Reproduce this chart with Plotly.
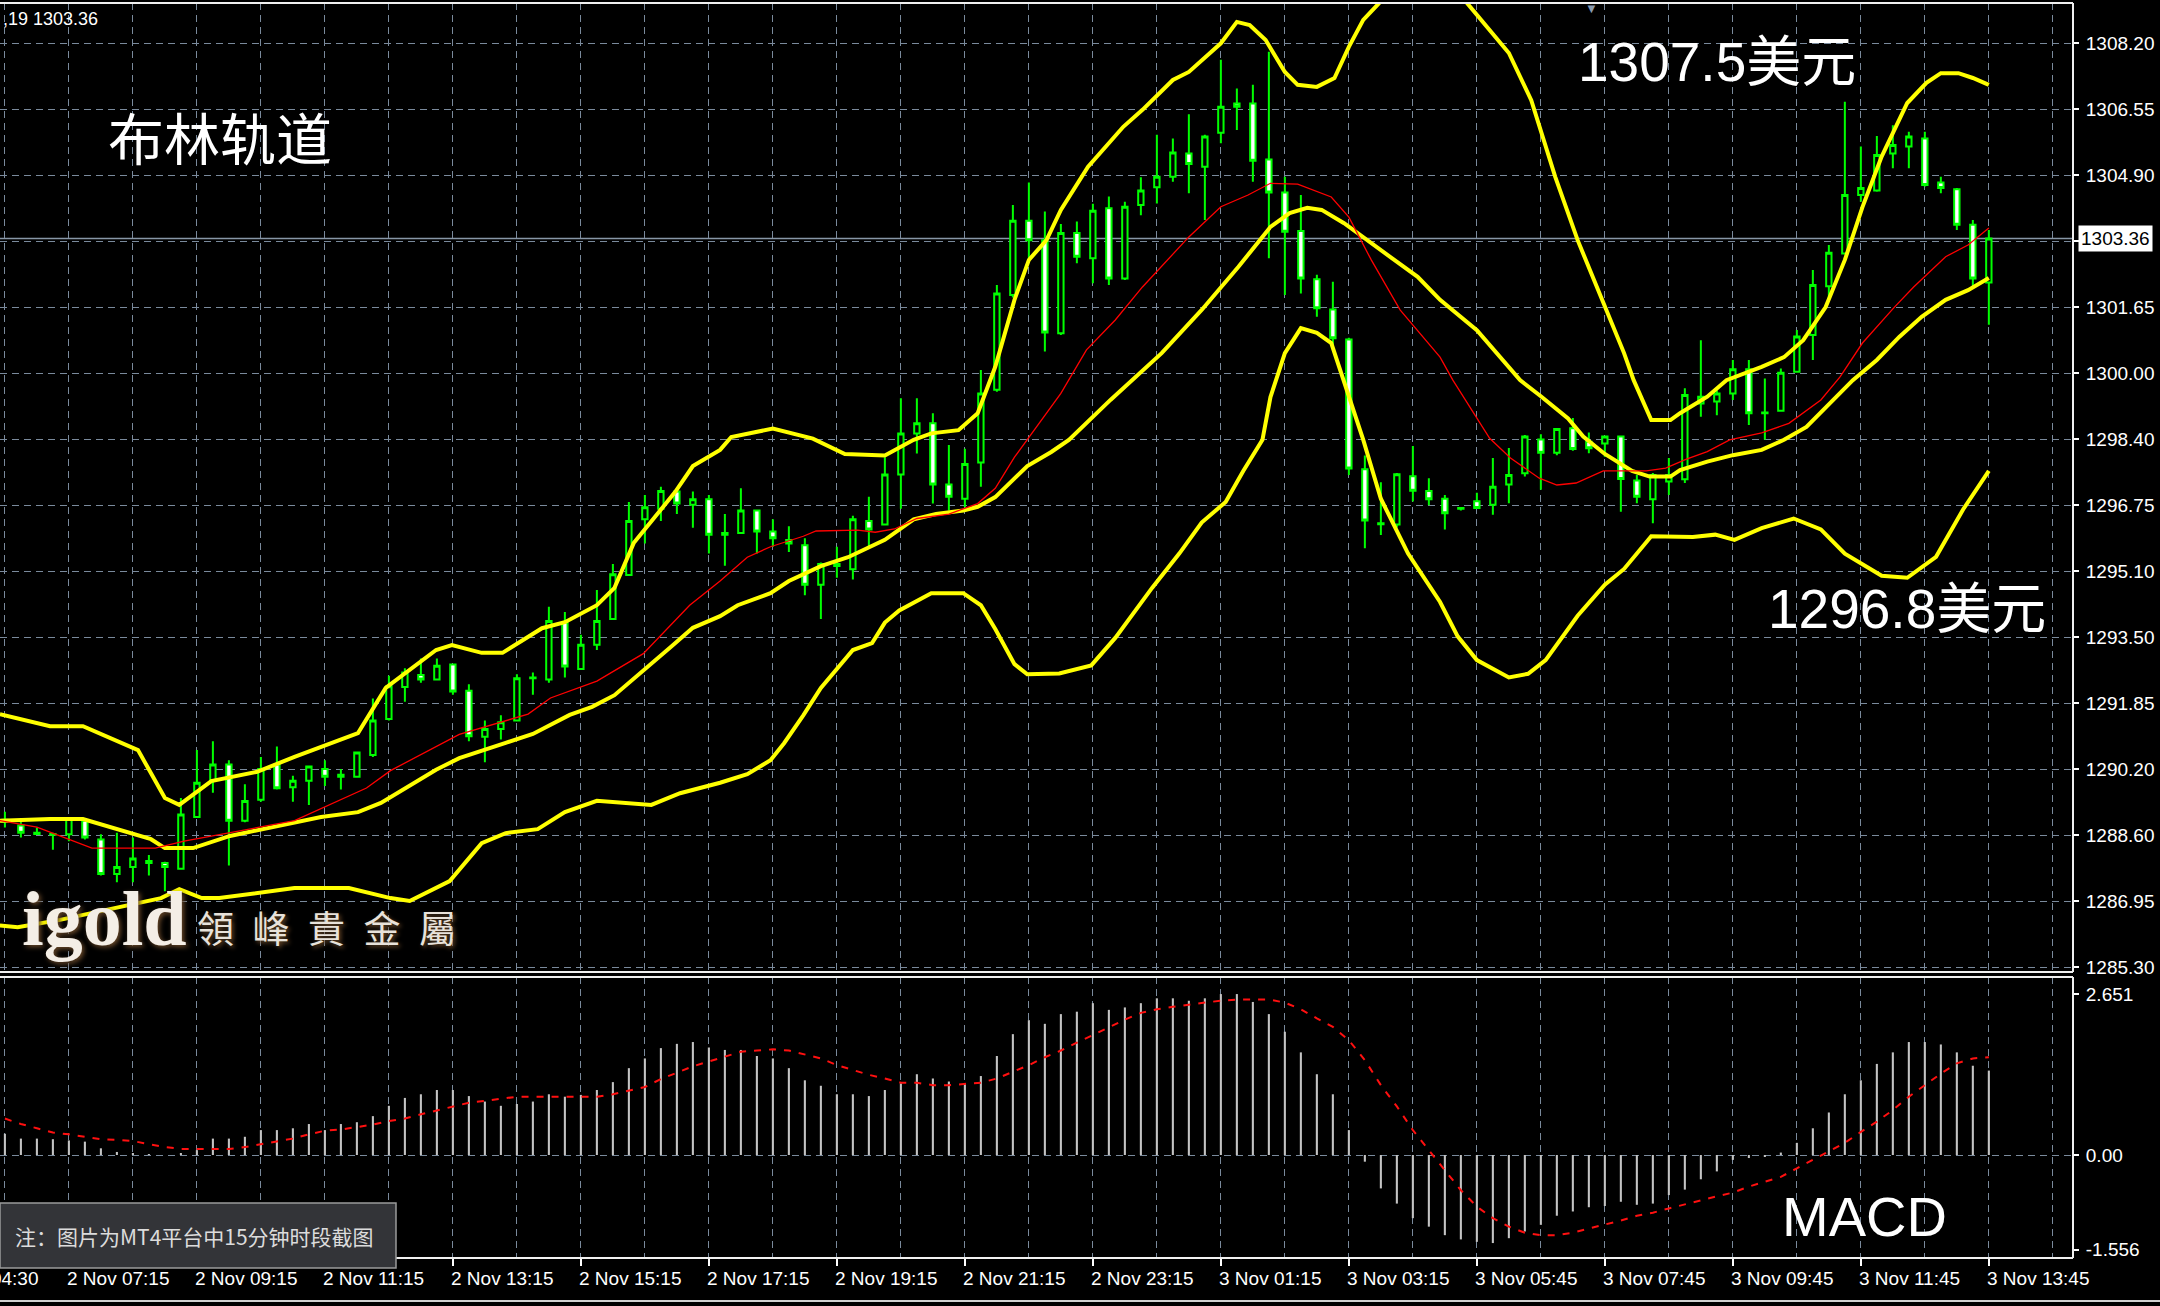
import plotly.graph_objects as go

# ---------------- data ----------------
BAR_INDEX = list(range(-4, 121))  # 15-minute bars; bar 0 = 2 Nov 07:15

OPEN = [1288.90, 1288.81, 1288.63, 1288.60, 1288.59, 1288.93, 1288.46, 1287.61, 1287.78, 1287.93,
        1287.88, 1287.74, 1289.02, 1289.92, 1290.32, 1288.93, 1289.45, 1290.32, 1289.76, 1289.92,
        1290.21, 1290.02, 1290.02, 1290.56, 1291.45, 1292.24, 1292.54, 1292.43, 1292.80, 1292.15,
        1291.01, 1291.20, 1291.41, 1292.46, 1292.43, 1293.84, 1292.69, 1293.29, 1293.93, 1295.02,
        1296.40, 1296.66, 1297.09, 1296.76, 1296.90, 1296.02, 1296.06, 1296.62, 1296.10, 1295.89,
        1295.76, 1294.78, 1295.29, 1295.16, 1296.36, 1296.27, 1297.51, 1298.53, 1298.78, 1297.26,
        1296.91, 1297.81, 1299.61, 1301.96, 1303.80, 1303.32, 1301.01, 1303.50, 1302.87, 1304.11,
        1302.37, 1304.19, 1304.63, 1304.89, 1305.47, 1305.14, 1305.98, 1306.71, 1306.71, 1305.32,
        1304.50, 1303.55, 1302.35, 1301.60, 1300.86, 1297.64, 1296.30, 1296.27, 1297.47, 1297.10,
        1296.91, 1296.66, 1296.85, 1296.76, 1297.26, 1297.54, 1298.38, 1298.05, 1298.66, 1298.32,
        1298.28, 1298.45, 1297.36, 1296.90, 1297.34, 1297.39, 1299.27, 1299.32, 1299.52, 1300.12,
        1299.03, 1299.09, 1300.06, 1300.97, 1302.18, 1302.99, 1304.44, 1304.55, 1305.47, 1305.64,
        1305.84, 1304.75, 1304.58, 1303.70, 1302.27]
HIGH = [1289.15, 1288.98, 1288.76, 1288.63, 1288.98, 1288.98, 1288.59, 1288.63, 1288.51, 1288.08,
        1287.91, 1289.49, 1290.68, 1290.90, 1290.43, 1289.83, 1290.51, 1290.77, 1290.04, 1290.27,
        1290.43, 1290.21, 1290.62, 1291.96, 1292.52, 1292.71, 1292.95, 1292.95, 1292.82, 1292.31,
        1291.41, 1291.54, 1292.56, 1292.60, 1294.23, 1294.10, 1293.54, 1294.65, 1295.29, 1296.83,
        1297.00, 1297.21, 1297.17, 1297.09, 1297.00, 1296.53, 1297.17, 1296.62, 1296.40, 1296.23,
        1295.93, 1295.33, 1295.72, 1296.49, 1296.96, 1297.94, 1299.40, 1299.40, 1299.03, 1298.24,
        1298.15, 1300.10, 1302.21, 1304.19, 1304.75, 1304.03, 1303.72, 1303.78, 1304.22, 1304.40,
        1304.27, 1304.88, 1305.93, 1305.84, 1306.44, 1305.93, 1307.79, 1307.08, 1307.17, 1307.99,
        1304.89, 1304.44, 1302.46, 1302.29, 1300.90, 1297.98, 1297.32, 1297.55, 1298.22, 1297.42,
        1297.00, 1296.70, 1297.06, 1297.92, 1298.17, 1298.49, 1298.51, 1298.66, 1298.91, 1298.55,
        1298.47, 1298.47, 1297.50, 1297.55, 1297.92, 1299.65, 1300.84, 1299.60, 1300.35, 1300.35,
        1299.89, 1300.14, 1301.09, 1302.58, 1303.20, 1306.75, 1305.64, 1305.90, 1306.17, 1306.01,
        1306.01, 1304.89, 1304.61, 1303.82, 1303.57]
LOW = [1288.76, 1288.51, 1288.59, 1288.21, 1288.42, 1288.46, 1287.57, 1287.40, 1287.40, 1287.57,
       1287.18, 1287.74, 1289.02, 1289.62, 1287.82, 1288.89, 1289.40, 1289.70, 1289.40, 1289.32,
       1289.79, 1289.70, 1290.00, 1290.51, 1291.41, 1291.88, 1292.35, 1292.43, 1292.05, 1290.90,
       1290.38, 1290.94, 1291.41, 1292.05, 1292.35, 1292.48, 1292.69, 1293.16, 1293.93, 1295.02,
       1295.80, 1296.36, 1296.53, 1296.19, 1295.55, 1295.25, 1296.06, 1295.55, 1295.72, 1295.59,
       1294.52, 1293.93, 1294.95, 1294.91, 1295.72, 1296.27, 1296.66, 1298.03, 1296.79, 1296.62,
       1296.70, 1297.21, 1299.56, 1301.90, 1302.83, 1300.56, 1300.97, 1302.75, 1302.25, 1302.21,
       1302.33, 1303.94, 1304.23, 1304.77, 1304.48, 1303.82, 1305.72, 1306.05, 1304.77, 1302.87,
       1301.96, 1302.00, 1301.42, 1300.68, 1297.50, 1295.68, 1296.01, 1296.20, 1296.84, 1296.75,
       1296.15, 1296.62, 1296.66, 1296.51, 1296.80, 1297.46, 1297.13, 1297.99, 1298.10, 1298.04,
       1297.95, 1296.59, 1296.80, 1296.30, 1297.00, 1297.30, 1298.94, 1298.98, 1299.36, 1298.74,
       1298.37, 1299.07, 1300.06, 1300.35, 1301.84, 1302.99, 1304.27, 1304.52, 1305.10, 1305.10,
       1304.65, 1304.48, 1303.57, 1302.17, 1301.22]
CLOSE = [1288.95, 1288.63, 1288.60, 1288.58, 1288.98, 1288.51, 1287.61, 1287.78, 1287.99, 1287.88,
         1287.78, 1289.08, 1289.87, 1290.32, 1288.93, 1289.42, 1290.21, 1289.73, 1289.92, 1290.27,
         1290.02, 1290.07, 1290.62, 1291.41, 1292.26, 1292.60, 1292.43, 1292.77, 1292.13, 1291.02,
         1291.20, 1291.37, 1292.46, 1292.48, 1293.88, 1292.75, 1293.29, 1293.88, 1295.04, 1296.36,
         1296.70, 1297.10, 1296.79, 1296.90, 1296.02, 1296.06, 1296.62, 1296.10, 1295.93, 1295.80,
         1294.78, 1295.29, 1295.24, 1296.40, 1296.15, 1297.51, 1298.53, 1298.78, 1297.26, 1296.96,
         1297.77, 1299.52, 1302.00, 1303.80, 1303.32, 1301.03, 1303.50, 1302.91, 1304.05, 1302.37,
         1304.15, 1304.55, 1304.89, 1305.49, 1305.21, 1305.89, 1306.63, 1306.63, 1305.29, 1304.50,
         1303.53, 1302.37, 1301.63, 1300.89, 1297.66, 1296.37, 1296.28, 1297.52, 1297.11, 1296.90,
         1296.55, 1296.68, 1296.68, 1297.21, 1297.50, 1298.45, 1298.05, 1298.64, 1298.14, 1298.16,
         1298.45, 1297.40, 1296.96, 1297.50, 1297.50, 1299.48, 1299.44, 1299.52, 1300.12, 1299.03,
         1299.05, 1300.03, 1300.93, 1302.21, 1303.01, 1304.44, 1304.61, 1305.43, 1305.68, 1305.89,
         1304.69, 1304.61, 1303.70, 1302.37, 1303.36]

# Bollinger band lines (bar position, price) sampled along each curve
UPPER_X = [-4.31, -1.18, 0.88, 4.32, 6.0, 6.9, 8.9, 11.76, 14.1, 18.07, 19.8, 22.95, 23.94, 25.8,
           27.1, 29.57, 31.0, 33.0, 34.1, 35.3, 37.9, 39.0, 40.7, 41.4, 44.0, 46.5, 48.5, 51.0,
           52.8, 53.9, 55.6, 56.8, 57.9, 59.1, 60.0, 61.1, 62.0, 63.7, 65.9, 67.1, 69.0, 70.0,
           72.0, 73.0, 73.8, 74.8, 76.0, 76.8, 78.0, 79.1, 80.0, 80.9, 81.9, 83.5, 85.0, 86.3,
           87.4, 90.0, 91.4, 92.9, 94.3, 95.8, 97.2, 97.8, 98.9, 100.1, 100.7, 102.4, 103.6, 105.8,
           107.2, 108.4, 109.8, 111.0, 112.1, 113.3, 114.9, 116.1, 117.0, 118.1, 119.0, 120.0]
UPPER_Y = [1291.57, 1291.27, 1291.27, 1290.68, 1289.49, 1289.32, 1289.91, 1290.14, 1290.51,
           1291.10, 1292.22, 1293.16, 1293.28, 1293.09, 1293.09, 1293.70, 1293.85, 1294.27,
           1294.70, 1295.81, 1297.08, 1297.72, 1298.12, 1298.44, 1298.65, 1298.40, 1298.02,
           1297.98, 1298.37, 1298.53, 1298.61, 1299.03, 1300.18, 1301.84, 1302.83, 1303.32,
           1304.07, 1305.14, 1306.13, 1306.55, 1307.29, 1307.49, 1308.20, 1308.73, 1308.65,
           1308.28, 1307.49, 1307.17, 1307.12, 1307.34, 1308.11, 1308.78, 1309.20, 1310.10,
           1310.40, 1310.00, 1309.19, 1307.96, 1306.79, 1304.89, 1303.32, 1301.84, 1300.52,
           1299.85, 1298.86, 1298.86, 1299.03, 1299.44, 1299.85, 1300.18, 1300.42, 1300.84,
           1301.66, 1302.83, 1304.14, 1305.39, 1306.72, 1307.22, 1307.46, 1307.46, 1307.34, 1307.17]

MIDDLE_X = [-4.31, -1.18, 0.88, 2.57, 5.13, 6.0, 7.76, 10.07, 14.1, 15.76, 18.07, 19.5, 22.95,
            24.4, 27.3, 29.0, 31.3, 32.7, 34.1, 35.9, 37.6, 39.0, 40.7, 41.8, 43.85, 45.0, 47.0,
            48.7, 51.0, 52.8, 54.2, 55.9, 56.8, 57.9, 59.9, 61.4, 62.5, 65.1, 68.3, 70.8, 73.1,
            75.1, 76.3, 77.4, 78.3, 79.7, 81.1, 82.6, 84.3, 85.7, 88.0, 90.7, 92.0, 93.7, 94.65,
            96.0, 97.7, 98.8, 100.1, 100.7, 102.4, 104.0, 105.8, 107.2, 108.6, 110.1, 111.5,
            113.0, 114.4, 115.8, 117.3, 118.7, 120.0]
MIDDLE_Y = [1288.93, 1288.97, 1288.97, 1288.77, 1288.47, 1288.25, 1288.25, 1288.55, 1288.90,
            1289.02, 1289.14, 1289.37, 1290.19, 1290.48, 1290.86, 1291.08, 1291.55, 1291.75,
            1292.04, 1292.64, 1293.23, 1293.71, 1294.00, 1294.27, 1294.57, 1294.87, 1295.24,
            1295.46, 1295.89, 1296.40, 1296.53, 1296.62, 1296.71, 1296.95, 1297.72, 1298.07,
            1298.37, 1299.36, 1300.52, 1301.59, 1302.66, 1303.65, 1303.99, 1304.12, 1304.07,
            1303.74, 1303.32, 1302.90, 1302.41, 1301.84, 1301.09, 1299.85, 1299.45, 1298.90,
            1298.45, 1298.02, 1297.60, 1297.46, 1297.46, 1297.62, 1297.83, 1297.99, 1298.12,
            1298.37, 1298.69, 1299.28, 1299.85, 1300.35, 1300.92, 1301.42, 1301.84, 1302.08, 1302.38]

LOWER_X = [-4.31, -3.2, -0.56, 5.76, 6.9, 8.3, 9.4, 11.76, 14.1, 17.5, 20.1, 21.3, 23.8, 25.8,
           27.3, 29.3, 31.0, 33.0, 36.4, 38.2, 40.7, 42.4, 43.85, 44.7, 45.9, 47.0, 49.0, 50.2,
           51.0, 51.9, 53.9, 55.9, 57.0, 57.9, 59.1, 59.9, 61.9, 63.9, 65.4, 67.7, 69.4, 70.8,
           72.3, 73.4, 74.6, 75.1, 76.0, 77.0, 78.0, 78.9, 79.7, 80.9, 82.0, 83.7, 85.7, 86.8,
           88.0, 90.0, 91.2, 92.3, 94.3, 96.0, 97.2, 98.9, 101.5, 102.9, 104.1, 105.8, 107.8,
           109.5, 111.0, 113.3, 114.9, 116.7, 118.4, 120.0]
LOWER_Y = [1286.33, 1286.29, 1286.47, 1287.01, 1287.23, 1287.01, 1287.01, 1287.14, 1287.26,
           1287.26, 1287.01, 1286.94, 1287.43, 1288.37, 1288.62, 1288.72, 1289.14, 1289.42,
           1289.32, 1289.61, 1289.87, 1290.08, 1290.43, 1290.85, 1291.54, 1292.22, 1293.16,
           1293.33, 1293.84, 1294.14, 1294.57, 1294.57, 1294.27, 1293.68, 1292.81, 1292.56,
           1292.58, 1292.78, 1293.46, 1294.70, 1295.55, 1296.32, 1296.83, 1297.60, 1298.37,
           1299.43, 1300.52, 1301.14, 1301.02, 1300.77, 1299.78, 1298.37, 1296.91, 1295.55,
           1294.35, 1293.50, 1292.91, 1292.48, 1292.57, 1292.91, 1294.01, 1294.78, 1295.17,
           1295.98, 1295.96, 1296.02, 1295.89, 1296.18, 1296.42, 1296.15, 1295.55, 1295.00,
           1294.95, 1295.47, 1296.65, 1297.60]

# thin red moving average
MA_X = [-4.31, -2.0, 1.44, 5.4, 7.2, 10.07, 14.1, 18.6, 20.1, 24.4, 28.7, 30.1, 33.0, 35.9, 38.8,
        40.7, 42.4, 43.85, 45.9, 46.7, 49.3, 50.4, 51.6, 53.0, 55.0, 56.8, 57.9, 59.1, 59.9, 62.0,
        63.6, 65.4, 67.1, 70.0, 72.0, 73.7, 75.1, 76.8, 78.9, 80.0, 81.4, 83.2, 85.7, 86.5, 88.8,
        90.1, 91.9, 93.0, 94.2, 95.9, 97.4, 98.6, 99.8, 101.1, 102.4, 103.8, 105.8, 107.5, 109.5,
        110.7, 112.1, 114.1, 115.3, 117.3, 118.7, 120.0]
MA_Y = [1288.93, 1288.77, 1288.25, 1288.25, 1288.42, 1288.63, 1288.93, 1289.74, 1290.17, 1291.07,
        1291.57, 1291.97, 1292.39, 1293.07, 1294.27, 1294.87, 1295.46, 1295.72, 1295.98, 1296.11,
        1296.13, 1296.08, 1296.16, 1296.42, 1296.53, 1296.79, 1297.17, 1297.94, 1298.37, 1299.52,
        1300.60, 1301.34, 1302.16, 1303.40, 1304.15, 1304.44, 1304.73, 1304.71, 1304.39, 1303.89,
        1302.83, 1301.59, 1300.42, 1299.85, 1298.41, 1297.92, 1297.42, 1297.25, 1297.30, 1297.60,
        1297.60, 1297.60, 1297.67, 1297.89, 1298.08, 1298.37, 1298.54, 1298.78, 1299.36, 1299.93,
        1300.77, 1301.66, 1302.16, 1302.91, 1303.20, 1303.62]

MACD_HIST = [0.35, 0.27, 0.27, 0.26, 0.24, 0.22, 0.11, 0.05, 0.02, 0.01,
             0.00, 0.02, 0.08, 0.27, 0.27, 0.30, 0.41, 0.41, 0.44, 0.51,
             0.41, 0.51, 0.54, 0.64, 0.81, 0.94, 1.00, 1.07, 1.07, 0.97,
             0.88, 0.81, 0.84, 0.88, 1.00, 0.96, 0.99, 1.07, 1.20, 1.43,
             1.59, 1.76, 1.83, 1.86, 1.77, 1.73, 1.73, 1.63, 1.59, 1.43,
             1.23, 1.14, 1.00, 1.00, 0.97, 1.07, 1.18, 1.33, 1.26, 1.21,
             1.18, 1.30, 1.63, 1.99, 2.22, 2.16, 2.32, 2.36, 2.50, 2.39,
             2.43, 2.50, 2.58, 2.58, 2.54, 2.58, 2.65, 2.65, 2.52, 2.32,
             2.03, 1.69, 1.33, 1.00, 0.41, -0.11, -0.55, -0.80, -1.04, -1.18,
             -1.32, -1.39, -1.43, -1.45, -1.37, -1.26, -1.15, -1.00, -0.93, -0.86,
             -0.84, -0.77, -0.82, -0.80, -0.66, -0.57, -0.40, -0.27, -0.08, -0.05,
             -0.03, 0.04, 0.20, 0.44, 0.70, 1.00, 1.23, 1.50, 1.69, 1.86,
             1.86, 1.82, 1.69, 1.47, 1.39]
MACD_SIGNAL = [0.60, 0.51, 0.44, 0.37, 0.34, 0.30, 0.26, 0.25, 0.23, 0.18,
               0.13, 0.10, 0.10, 0.10, 0.10, 0.13, 0.18, 0.23, 0.27, 0.34,
               0.40, 0.42, 0.46, 0.50, 0.56, 0.60, 0.67, 0.73, 0.80, 0.86,
               0.89, 0.92, 0.96, 0.96, 0.96, 0.96, 0.96, 0.96, 1.00, 1.06,
               1.12, 1.25, 1.35, 1.46, 1.54, 1.62, 1.70, 1.72, 1.74, 1.72,
               1.66, 1.59, 1.48, 1.40, 1.32, 1.26, 1.19, 1.19, 1.15, 1.15,
               1.17, 1.19, 1.26, 1.37, 1.48, 1.61, 1.72, 1.85, 1.98, 2.10,
               2.23, 2.34, 2.40, 2.44, 2.48, 2.51, 2.54, 2.56, 2.56, 2.56,
               2.51, 2.40, 2.25, 2.11, 1.89, 1.56, 1.15, 0.80, 0.41, 0.07,
               -0.25, -0.58, -0.85, -1.04, -1.18, -1.28, -1.32, -1.32, -1.28, -1.21,
               -1.15, -1.08, -1.00, -0.95, -0.88, -0.81, -0.74, -0.68, -0.62, -0.52,
               -0.44, -0.36, -0.22, -0.08, 0.05, 0.20, 0.38, 0.55, 0.74, 0.96,
               1.15, 1.34, 1.51, 1.59, 1.61]

LAST_PRICE = 1303.36

PRICE_TICK_TEXT = ['1308.20', '1306.55', '1304.90', '1303.25', '1301.65', '1300.00', '1298.40',
                   '1296.75', '1295.10', '1293.50', '1291.85', '1290.20', '1288.60', '1286.95',
                   '1285.30']
HIDDEN_PRICE_TICK = '1303.25'   # covered by the last-price box in the picture
PRICE_TICK_TOP, PRICE_TICK_BOTTOM = 1308.20, 1285.30
MACD_TICK_VALUES = [2.651, 0.0, -1.556]
MACD_TICK_TEXT = ['2.651', '0.00', '-1.556']

TIME_LABEL_BARS = [0, 8, 16, 24, 32, 40, 48, 56, 64, 72, 80, 88, 96, 104, 112, 120]
TIME_LABELS = ['2 Nov 07:15', '2 Nov 09:15', '2 Nov 11:15', '2 Nov 13:15', '2 Nov 15:15',
               '2 Nov 17:15', '2 Nov 19:15', '2 Nov 21:15', '2 Nov 23:15', '3 Nov 01:15',
               '3 Nov 03:15', '3 Nov 05:45', '3 Nov 07:45', '3 Nov 09:45', '3 Nov 11:45',
               '3 Nov 13:45']
FIRST_TIME_LABEL = '2 Nov 04:30'
GRID_BARS = list(range(-4, 126, 4))

# ---------------- layout helpers ----------------
W, H = 2160, 1306
ML, MR, MT, MB = 0, 87, 3, 48
PW, PH = W - ML - MR, H - MT - MB


def py(pix):
    return (H - MB - pix) / PH


def px(pix):
    return (pix - ML) / PW


X_RANGE = [-4.306, 125.26]
MAIN_RANGE = [1285.178, 1309.199]
MACD_RANGE = [-1.696, 2.931]
MAIN_DOMAIN = [py(972), 1.0]
MACD_DOMAIN = [0.0, py(977)]

GRID_COLOR = '#7a8a9c'
GRID_DASH = '7px,5px'
AX_FAMILY = 'Liberation Sans Narrow, Arial Narrow, Liberation Sans, Arial, sans-serif'
AX_FONT = dict(family=AX_FAMILY, size=19, color='#ffffff')
YELLOW = '#ffff00'
BIG_FONT = 'Liberation Sans, Noto Sans CJK SC, sans-serif'

fig = go.Figure()

fig.add_trace(go.Candlestick(
    x=BAR_INDEX, open=OPEN, high=HIGH, low=LOW, close=CLOSE,
    increasing=dict(line=dict(color='#00ff00', width=2), fillcolor='#000000'),
    decreasing=dict(line=dict(color='#00ff00', width=2), fillcolor='#ffffff'),
    whiskerwidth=0, xaxis='x', yaxis='y', hoverinfo='skip'))

for xs, ys in ((UPPER_X, UPPER_Y), (MIDDLE_X, MIDDLE_Y), (LOWER_X, LOWER_Y)):
    fig.add_trace(go.Scatter(x=xs, y=ys, mode='lines', line=dict(color=YELLOW, width=4),
                             xaxis='x', yaxis='y', hoverinfo='skip'))

fig.add_trace(go.Scatter(x=MA_X, y=MA_Y, mode='lines', line=dict(color='#ff0000', width=1.3),
                         xaxis='x', yaxis='y', hoverinfo='skip'))

fig.add_trace(go.Bar(x=BAR_INDEX, y=MACD_HIST, width=0.13, marker=dict(color='#c4c4c4', line=dict(width=0)),
                     xaxis='x2', yaxis='y2', hoverinfo='skip'))
fig.add_trace(go.Scatter(x=BAR_INDEX, y=MACD_SIGNAL, mode='lines',
                         line=dict(color='#ff1010', width=2, dash='7px,8px'),
                         xaxis='x2', yaxis='y2', hoverinfo='skip'))

step = (PRICE_TICK_TOP - PRICE_TICK_BOTTOM) / (len(PRICE_TICK_TEXT) - 1)
price_tickvals = [PRICE_TICK_TOP - k * step for k in range(len(PRICE_TICK_TEXT))]
price_ticktext = ['' if t == HIDDEN_PRICE_TICK else t for t in PRICE_TICK_TEXT]

fig.update_layout(
    width=W, height=H, margin=dict(l=ML, r=MR, t=MT, b=MB, autoexpand=False),
    paper_bgcolor='#000000', plot_bgcolor='#000000', showlegend=False,
    hovermode=False, boxgap=0.52,
    xaxis=dict(domain=[0, 1], range=X_RANGE, anchor='y', tickvals=GRID_BARS, showticklabels=False,
               showgrid=True, gridcolor=GRID_COLOR, griddash=GRID_DASH, gridwidth=1,
               zeroline=False, showline=False, ticks='', rangeslider=dict(visible=False),
               fixedrange=True, automargin=False),
    yaxis=dict(domain=MAIN_DOMAIN, range=MAIN_RANGE, anchor='x', side='right',
               tickvals=price_tickvals, ticktext=price_ticktext, tickfont=AX_FONT,
               showgrid=True, gridcolor=GRID_COLOR, griddash=GRID_DASH, gridwidth=1,
               zeroline=False, showline=False, ticks='outside', ticklen=5, tickwidth=1.5,
               tickcolor='#ffffff', ticklabelstandoff=3, fixedrange=True, automargin=False),
    xaxis2=dict(domain=[0, 1], range=X_RANGE, anchor='y2', tickvals=TIME_LABEL_BARS,
                showticklabels=False, showgrid=True, gridcolor=GRID_COLOR, griddash=GRID_DASH,
                gridwidth=1, ticks='outside', ticklen=7, tickwidth=2, tickcolor='#ffffff',
                zeroline=False, showline=False,
                minor=dict(tickvals=GRID_BARS, showgrid=True, gridcolor=GRID_COLOR,
                           griddash=GRID_DASH, gridwidth=1, ticks=''),
                rangeslider=dict(visible=False), fixedrange=True, automargin=False),
    yaxis2=dict(domain=MACD_DOMAIN, range=MACD_RANGE, anchor='x2', side='right',
                tickvals=MACD_TICK_VALUES, ticktext=MACD_TICK_TEXT, tickfont=AX_FONT,
                showgrid=False, zeroline=False, showline=False, ticks='outside', ticklen=5,
                tickwidth=1.5, tickcolor='#ffffff', ticklabelstandoff=3,
                minor=dict(tickvals=[0.0], showgrid=True, gridcolor=GRID_COLOR,
                           griddash=GRID_DASH, gridwidth=1, ticks=''),
                fixedrange=True, automargin=False),
)

BORDER = '#f0f0f0'
shapes = [
    # last-price line
    dict(type='line', xref='paper', x0=0, x1=1, yref='y', y0=LAST_PRICE, y1=LAST_PRICE,
         line=dict(color='#8796a6', width=1.5), layer='below'),
    # panel borders
    dict(type='line', xref='paper', yref='paper', x0=0, x1=1, y0=1, y1=1,
         line=dict(color=BORDER, width=2)),
    dict(type='line', xref='paper', yref='paper', x0=1, x1=1, y0=MAIN_DOMAIN[0], y1=1,
         line=dict(color=BORDER, width=2)),
    dict(type='line', xref='paper', yref='paper', x0=0, x1=1, y0=MAIN_DOMAIN[0], y1=MAIN_DOMAIN[0],
         line=dict(color=BORDER, width=2)),
    dict(type='line', xref='paper', yref='paper', x0=0, x1=1, y0=MACD_DOMAIN[1], y1=MACD_DOMAIN[1],
         line=dict(color=BORDER, width=2)),
    dict(type='line', xref='paper', yref='paper', x0=1, x1=1, y0=0, y1=MACD_DOMAIN[1],
         line=dict(color=BORDER, width=2)),
    dict(type='line', xref='paper', yref='paper', x0=0, x1=1, y0=0, y1=0,
         line=dict(color=BORDER, width=2)),
    dict(type='line', xref='paper', yref='paper', x0=0, x1=px(W), y0=py(1301), y1=py(1301),
         line=dict(color='#d0d0d0', width=2)),
    # note box
    dict(type='rect', xref='paper', yref='paper', x0=px(0), x1=px(396), y0=py(1268), y1=py(1203),
         fillcolor='#333438', line=dict(color='#9a9a9a', width=1.5), layer='above'),
]
fig.update_layout(shapes=shapes)

ann = []
for b, t in zip(TIME_LABEL_BARS, TIME_LABELS):
    ann.append(dict(x=b, xref='x2', y=py(1278), yref='paper', text=t, showarrow=False,
                    xanchor='left', yanchor='middle', xshift=-4, font=AX_FONT))
ann.append(dict(x=X_RANGE[0], xref='x2', y=py(1278), yref='paper', text=FIRST_TIME_LABEL,
                showarrow=False, xanchor='right', yanchor='middle', xshift=40, font=AX_FONT))
# last price box on the axis
ann.append(dict(x=1, xref='paper', y=LAST_PRICE, yref='y', text='1303.36', showarrow=False,
                xanchor='left', yanchor='middle', xshift=5, bgcolor='#ffffff', borderpad=2,
                font=dict(family=AX_FAMILY, size=19, color='#000000')))
# top-left info
ann.append(dict(x=px(1), xref='paper', y=py(19), yref='paper', text=',19 1303.36', showarrow=False,
                xanchor='left', yanchor='middle',
                font=dict(family=AX_FAMILY, size=18, color='#ffffff')))
ann.append(dict(x=px(1591), xref='paper', y=py(8), yref='paper', text='▼', showarrow=False,
                xanchor='center', yanchor='middle', font=dict(size=13, color='#8a9bb0')))
# big captions
ann.append(dict(x=px(106), xref='paper', y=py(136), yref='paper', text='布林轨道', showarrow=False,
                xanchor='left', yanchor='middle',
                font=dict(family='Noto Sans CJK SC', size=56, color='#ffffff')))
ann.append(dict(x=px(1576), xref='paper', y=py(62), yref='paper', text='1307.5美元', showarrow=False,
                xanchor='left', yanchor='middle', font=dict(family=BIG_FONT, size=55, color='#ffffff')))
ann.append(dict(x=px(1766), xref='paper', y=py(609), yref='paper', text='1296.8美元', showarrow=False,
                xanchor='left', yanchor='middle', font=dict(family=BIG_FONT, size=55, color='#ffffff')))
ann.append(dict(x=px(1780), xref='paper', y=py(1216), yref='paper', text='MACD', showarrow=False,
                xanchor='left', yanchor='middle', font=dict(family=BIG_FONT, size=56, color='#ffffff')))
# logo
ann.append(dict(x=px(20), xref='paper', y=py(919), yref='paper', text='<b>igold</b>', showarrow=False,
                xanchor='left', yanchor='middle',
                font=dict(family='Liberation Serif, DejaVu Serif, serif', size=78, color='#f4eee6',
                          shadow='2px 2px 5px #6b4a2a')))
ann.append(dict(x=px(326), xref='paper', y=py(927), yref='paper',
                text='領\u2002峰\u2002貴\u2002金\u2002屬', showarrow=False,
                xanchor='center', yanchor='middle',
                font=dict(family='Noto Sans CJK TC', size=37, color='#e8e2da',
                          shadow='2px 2px 4px #6b4a2a')))
# note text
ann.append(dict(x=px(13), xref='paper', y=py(1236), yref='paper', text='注：图片为MT4平台中15分钟时段截图',
                showarrow=False, xanchor='left', yanchor='middle',
                font=dict(family='Noto Sans CJK SC', size=21, color='#dcdcdc')))
fig.update_layout(annotations=ann)

PAGE_JS = "document.body.style.margin='0';document.body.style.background='#000000';"
fig.write_html('out.html', config=dict(displayModeBar=False), post_script=PAGE_JS)
